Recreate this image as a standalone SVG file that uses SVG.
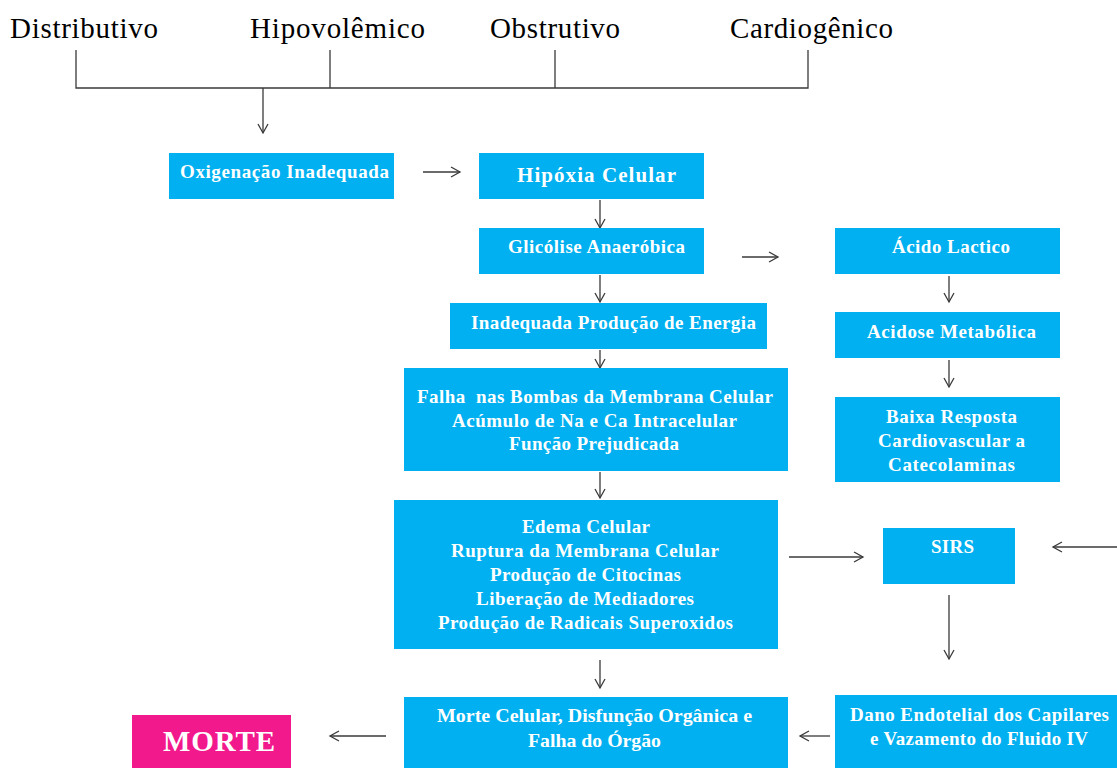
<svg xmlns="http://www.w3.org/2000/svg" width="1117" height="768" viewBox="0 0 1117 768">
<style>
.box{fill:#00B0F0}
.pink{fill:#F2198C}
.t{font-family:"Liberation Serif","Times New Roman",serif;font-weight:bold;fill:#fff;font-size:19px}
.top{font-family:"Liberation Serif","Times New Roman",serif;fill:#000;font-size:29px}
.ln{stroke:#3a3a3a;stroke-width:1.3;fill:none}
.arr{stroke:#3a3a3a;stroke-width:1.3;fill:none;marker-end:url(#ah)}
</style>
<defs>
<marker id="ah" markerUnits="userSpaceOnUse" markerWidth="12" markerHeight="14" refX="10" refY="6" orient="auto" viewBox="0 0 12 12">
<path d="M1,1 L10,6 L1,11" fill="none" stroke="#3a3a3a" stroke-width="1.3"/>
</marker>
</defs>
<rect width="1117" height="768" fill="#fff"/>
<g id="top-labels">
<text class="top" x="10" y="38" textLength="148">Distributivo</text>
<text class="top" x="250" y="38" textLength="175">Hipovolêmico</text>
<text class="top" x="490" y="38" textLength="130">Obstrutivo</text>
<text class="top" x="730" y="38" textLength="163">Cardiogênico</text>
</g>
<g id="connectors">
<path class="ln" d="M76,50 V88 H808 V50 M330,50 V88 M555,50 V88"/>
<path class="arr" d="M263,88 V133"/>
<path class="arr" d="M423,172 H460"/>
<path class="arr" d="M600,200 V228"/>
<path class="arr" d="M600,275 V302"/>
<path class="arr" d="M600,350 V368"/>
<path class="arr" d="M600,472 V498"/>
<path class="arr" d="M600,660 V688"/>
<path class="arr" d="M386,736 H330"/>
<path class="arr" d="M742,257 H778"/>
<path class="arr" d="M949,276 V302"/>
<path class="arr" d="M949,360 V387"/>
<path class="arr" d="M789,557 H863"/>
<path class="arr" d="M1117,547 H1053"/>
<path class="arr" d="M949,595 V659"/>
<path class="arr" d="M830,736 H800"/>
<path class="ln" d="M1107,735 H1117"/>
</g>
<g id="n-oxigenacao"><rect class="box" x="169" y="153" width="225" height="46"/><text class="t" x="180" y="178" textLength="209">Oxigenação Inadequada</text></g>
<g id="n-hipoxia"><rect class="box" x="479" y="153" width="225" height="46"/><text class="t" x="517" y="182" textLength="159" style="font-size:21px">Hipóxia Celular</text></g>
<g id="n-glicolise"><rect class="box" x="479" y="228" width="225" height="46"/><text class="t" x="508" y="253" textLength="177">Glicólise Anaeróbica</text></g>
<g id="n-energia"><rect class="box" x="450" y="303" width="317" height="46"/><text class="t" x="471" y="329" textLength="285">Inadequada Produção de Energia</text></g>
<g id="n-falha"><rect class="box" x="404" y="368" width="384" height="103"/>
<text class="t" x="417" y="403" textLength="356" xml:space="preserve">Falha  nas Bombas da Membrana Celular</text>
<text class="t" x="452" y="427" textLength="285">Acúmulo de Na e Ca Intracelular</text>
<text class="t" x="509" y="450" textLength="170">Função Prejudicada</text></g>
<g id="n-edema"><rect class="box" x="394" y="500" width="384" height="149"/>
<text class="t" x="522" y="533" textLength="128">Edema Celular</text>
<text class="t" x="451" y="557" textLength="268">Ruptura da Membrana Celular</text>
<text class="t" x="490" y="581" textLength="191">Produção de Citocinas</text>
<text class="t" x="476" y="605" textLength="218">Liberação de Mediadores</text>
<text class="t" x="438" y="629" textLength="295">Produção de Radicais Superoxidos</text></g>
<g id="n-morte-celular"><rect class="box" x="404" y="697" width="384" height="71"/>
<text class="t" x="437" y="722" textLength="315" lengthAdjust="spacingAndGlyphs">Morte Celular, Disfunção Orgânica e</text>
<text class="t" x="528" y="747" textLength="133" lengthAdjust="spacingAndGlyphs">Falha do Órgão</text></g>
<g id="n-morte"><rect class="pink" x="132" y="715" width="159" height="53"/><text class="t" x="163" y="751" textLength="112" style="font-size:29px">MORTE</text></g>
<g id="n-acido"><rect class="box" x="835" y="228" width="225" height="46"/><text class="t" x="892" y="253" textLength="118">Ácido Lactico</text></g>
<g id="n-acidose"><rect class="box" x="835" y="312" width="225" height="46"/><text class="t" x="867" y="338" textLength="169">Acidose Metabólica</text></g>
<g id="n-baixa"><rect class="box" x="835" y="397" width="225" height="85"/>
<text class="t" x="886" y="423" textLength="131">Baixa Resposta</text>
<text class="t" x="878" y="447" textLength="147">Cardiovascular a</text>
<text class="t" x="888" y="471" textLength="127">Catecolaminas</text></g>
<g id="n-sirs"><rect class="box" x="883" y="528" width="132" height="56"/><text class="t" x="931" y="553" textLength="43">SIRS</text></g>
<g id="n-dano"><rect class="box" x="835" y="695" width="282" height="73"/>
<text class="t" x="850" y="721" textLength="259">Dano Endotelial dos Capilares</text>
<text class="t" x="870" y="745" textLength="218">e Vazamento do Fluido IV</text></g>
</svg>
